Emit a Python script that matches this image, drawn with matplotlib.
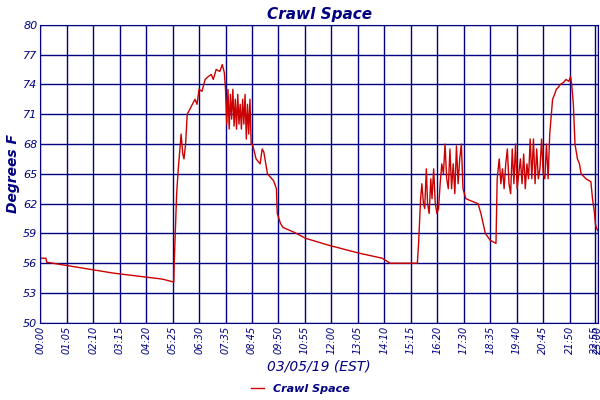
import numpy as np
import matplotlib.pyplot as plt

# time in minutes from midnight (axis units), temperature in degrees F
minutes = [0, 14, 16, 60, 120, 180, 240, 300, 328,
           329, 335, 339, 343, 346, 350, 353, 357, 361, 371, 380, 385, 390,
           397, 405, 413, 420, 425, 432, 441, 447, 452, 455,
           458, 461, 464, 467, 470, 473, 476, 479, 482, 485, 488, 491, 494,
           497, 500, 503, 506, 509, 512, 515, 518, 521,
           530, 540, 545, 549, 558, 573, 580, 582, 590, 596, 624, 652, 709,
           784, 840, 859, 926,
           929, 934, 937, 941, 944, 948, 951, 955, 959, 962, 966, 970, 974,
           978, 982, 986, 990, 994, 998, 1002, 1006, 1010, 1014, 1018, 1022,
           1026, 1030, 1034, 1038, 1045, 1056, 1075, 1082, 1093, 1105, 1119,
           1122, 1127, 1131, 1135, 1139, 1143, 1147, 1151, 1155, 1159, 1163,
           1167, 1171, 1175, 1179, 1183, 1187, 1191, 1195, 1199, 1203, 1207,
           1211, 1215, 1219, 1223, 1227, 1231, 1235, 1239, 1243, 1247, 1251,
           1255, 1258, 1263, 1267, 1272, 1277, 1285, 1291, 1298, 1302, 1305,
           1309, 1313, 1319, 1324, 1328, 1340, 1352, 1356, 1361, 1363, 1366, 1369]
temps = [56.5, 56.5, 56.1, 55.8, 55.4, 55.0, 54.7, 54.4, 54.1,
         56.0, 63.0, 65.5, 67.5, 69.0, 67.0, 66.5, 68.0, 71.0, 71.8, 72.5, 72.0, 73.5,
         73.3, 74.5, 74.8, 75.0, 74.5, 75.5, 75.3, 76.0, 75.2, 73.5,
         70.0, 73.5, 69.5, 73.0, 70.5, 73.5, 69.8, 72.5, 69.5, 73.0, 70.0, 72.0,
         69.5, 72.5, 70.0, 73.0, 68.5, 72.0, 69.0, 72.5, 68.0, 68.0,
         66.5, 66.0, 67.5, 67.2, 65.0, 64.3, 63.5, 61.0, 60.0, 59.6, 59.1, 58.5, 57.8,
         57.0, 56.5, 56.0, 56.0,
         58.0, 62.5, 64.0, 62.0, 61.5, 65.5, 62.0, 61.0, 64.5, 62.5, 65.5, 62.0, 61.0,
         61.5, 64.0, 66.0, 65.0, 68.0, 64.5, 63.5, 67.5, 63.5, 66.0, 63.0, 67.8,
         64.0, 66.5, 68.0, 63.5, 62.5, 62.3, 62.0, 61.0, 59.0, 58.3, 58.0,
         64.5, 66.5, 64.0, 65.5, 63.5, 66.0, 67.5, 64.0, 63.0, 67.5, 64.0,
         68.0, 63.5, 65.0, 66.5, 64.0, 67.0, 63.5, 66.0, 64.5, 68.5, 64.5,
         68.5, 64.0, 67.5, 64.5, 65.5, 68.5, 65.0, 64.5, 68.0, 64.5, 69.0,
         71.0, 72.5, 73.0, 73.5, 73.7, 74.0, 74.2, 74.5, 74.3, 74.8, 74.0,
         72.0, 68.0, 66.5, 66.0, 65.0, 64.5, 64.2, 62.5, 61.0, 60.0, 59.5, 59.3]

tick_labels = ['00:00', '01:05', '02:10', '03:15', '04:20', '05:25', '06:30',
               '07:35', '08:45', '09:50', '10:55', '12:00', '13:05', '14:10',
               '15:15', '16:20', '17:30', '18:35', '19:40', '20:45', '21:50',
               '22:55', '23:00']
tick_pos = [i * 65 for i in range(21)] + [1363, 1369]

navy = '#000080'
plt.rcParams['font.family'] = 'DejaVu Sans'
fig = plt.figure(figsize=(6, 4), dpi=100)
ax = fig.add_axes([0.067, 0.193, 0.93, 0.745])
ax.plot(minutes, temps, color='#cc0000', lw=1, label='Crawl Space')
ax.set_xlim(0, 1370)
ax.set_ylim(50, 80)
ax.set_yticks(np.arange(50, 81, 3))
ax.set_yticklabels([str(v) for v in range(50, 81, 3)], fontsize=8, style='italic', color=navy)
ax.set_xticks(tick_pos)
ax.set_xticklabels(tick_labels, rotation=90, fontsize=7, style='italic', color=navy)
ax.grid(True, color=navy, lw=1)
ax.tick_params(length=0, pad=2)
for s in ax.spines.values():
    s.set_color(navy)
ax.set_title('Crawl Space', fontsize=11, style='italic', fontweight='bold', color=navy, pad=4)
ax.set_ylabel('Degrees F', fontsize=10, style='italic', fontweight='bold', color=navy, labelpad=2)
ax.set_xlabel('03/05/19 (EST)', fontsize=10, style='italic', color=navy, labelpad=4)
fig.legend(loc='lower center', bbox_to_anchor=(0.5, -0.01), frameon=False,
           prop={'size': 8, 'style': 'italic', 'weight': 'bold'}, labelcolor=navy,
           handlelength=1.2)
fig.savefig('out.png')
